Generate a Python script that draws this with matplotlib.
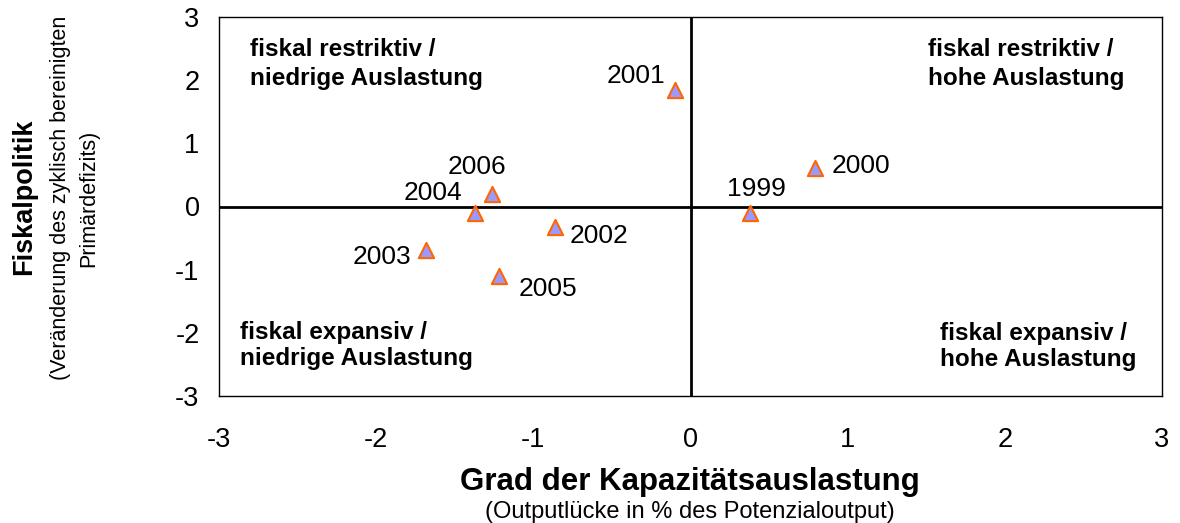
import matplotlib
matplotlib.use("Agg")
import matplotlib.pyplot as plt

plt.rcParams['font.family'] = ['Liberation Sans', 'DejaVu Sans']
plt.rcParams['axes.unicode_minus'] = False

# --- Data ---
years = ["1999", "2000", "2001", "2002", "2003", "2004", "2005", "2006"]
output_gap = [0.38, 0.79, -0.10, -0.86, -1.68, -1.37, -1.22, -1.26]
fiscal = [-0.10, 0.61, 1.84, -0.32, -0.69, -0.10, -1.10, 0.20]

# label offsets in pixels (dx, dy, ha)
offsets = {
    "1999": (6, 24, "center"),
    "2000": (17, 2, "left"),
    "2001": (-10, 14, "right"),
    "2002": (14, -9, "left"),
    "2003": (-15, -7, "right"),
    "2004": (-13, 20, "right"),
    "2005": (20, -13, "left"),
    "2006": (-16, 27, "center"),
}

# quadrant captions: (x px, first baseline px, second baseline px, lines)
quadrants = [
    (250, 56, 85, ["fiskal restriktiv /", "niedrige Auslastung"]),
    (928, 56, 85, ["fiskal restriktiv /", "hohe Auslastung"]),
    (240, 339, 365, ["fiskal expansiv /", "niedrige Auslastung"]),
    (940, 340, 366, ["fiskal expansiv /", "hohe Auslastung"]),
]

W, H = 1180, 523
fig = plt.figure(figsize=(W / 100, H / 100), dpi=100)
ax = fig.add_axes([219 / W, 1 - 396 / H, 943 / W, 379 / H])

ax.axhline(0, color="black", lw=2, zorder=1)
ax.axvline(0, color="black", lw=2, zorder=1)

ax.scatter(output_gap, fiscal, marker="^", s=120, facecolor="#9999FF",
           edgecolor="#FF6600", linewidths=1.5, zorder=3)

for yr, x, y in zip(years, output_gap, fiscal):
    dx, dy, ha = offsets[yr]
    ax.annotate(yr, (x, y), xytext=(dx, dy), textcoords="offset pixels",
                ha=ha, va="center", fontsize=19)

ax.set_xlim(-3, 3)
ax.set_ylim(-3, 3)
ax.set_xticks(range(-3, 4))
ax.set_yticks(range(-3, 4))
ax.tick_params(length=0, labelsize=19.5)
ax.tick_params(axis="x", pad=22)
ax.tick_params(axis="y", pad=14)
for s in ax.spines.values():
    s.set_linewidth(1)

for qx, b1, b2, lines in quadrants:
    for b, line in zip((b1, b2), lines):
        fig.text(qx / W, 1 - b / H, line, ha="left", va="baseline",
                 fontsize=17.5, fontweight="bold")

# axis titles
fig.text(690 / W, 1 - 490 / H, "Grad der Kapazitätsauslastung",
         ha="center", va="baseline", fontsize=22.5, fontweight="bold")
fig.text(690 / W, 1 - 518 / H, "(Outputlücke in % des Potenzialoutput)",
         ha="center", va="baseline", fontsize=17)
fig.text(24 / W, 1 - 197 / H, "Fiskalpolitik", rotation=90,
         ha="center", va="center", fontsize=19.5, fontweight="bold")
fig.text(75 / W, 1 - 198 / H, "(Veränderung des zyklisch bereinigten\nPrimärdefizits)",
         rotation=90, ha="center", va="center", fontsize=15.5, multialignment="center",
         linespacing=1.45)

fig.savefig("out.png", dpi=100)
